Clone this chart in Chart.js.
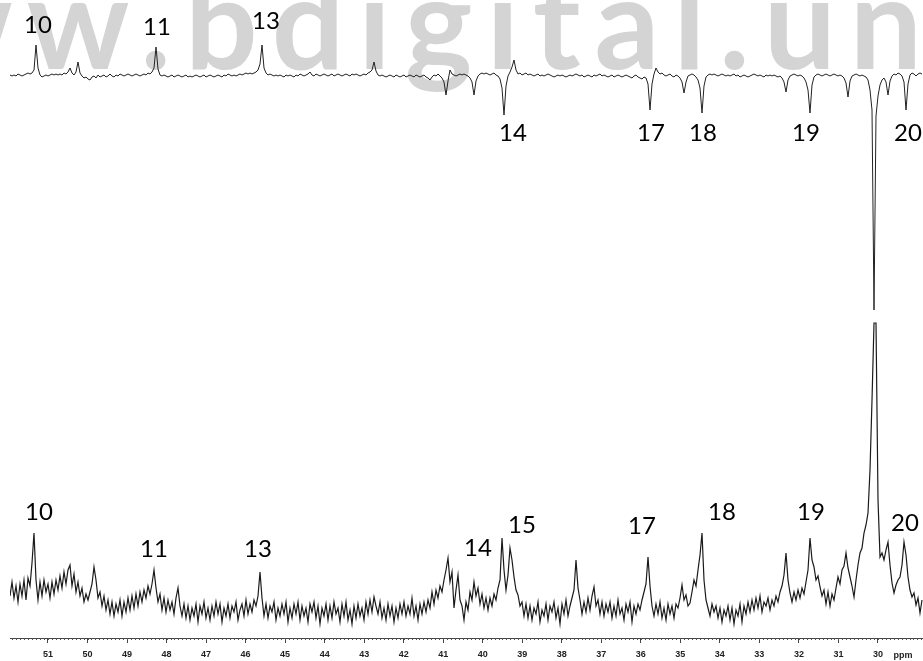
<!DOCTYPE html>
<html>
<head>
<meta charset="utf-8">
<script src="https://cdn.jsdelivr.net/npm/chart.js@4.4.1/dist/chart.umd.min.js"></script>
<style>
html,body{margin:0;padding:0;background:#fff;}
canvas{display:block;}
</style>
</head>
<body>
<canvas id="spectrum" width="923" height="661"></canvas>
<script>
// Spectral window (ppm, low field on the left) and sampling of both traces
const PPM_LEFT = 51.9615;
const PPM_RIGHT = 28.8595;
const PPM_STEP = 0.050607;

// Labelled axis positions
const ppmTicks = [51,50,49,48,47,46,45,44,43,42,41,40,39,38,37,36,35,34,33,32,31,30];

// DEPT-135 trace (CH/CH3 up, CH2 down), arbitrary intensity
const deptTrace = [
  1,0,1,0,2,1,0,1,2,3,2,3,6,31,8,1,-1,0,1,0,
  1,2,1,2,1,2,1,3,2,4,8,3,1,4,14,3,0,-2,-1,-3,
  -4,-1,0,-2,1,-1,0,1,-1,0,2,0,-1,1,0,2,1,0,1,2,
  1,0,1,2,1,0,1,2,1,3,2,4,8,29,7,1,0,1,0,-1,
  0,1,-1,0,1,0,-1,0,1,-1,0,-1,0,1,0,-1,0,1,-1,0,
  1,0,-1,0,1,0,-1,1,0,2,1,0,1,0,1,2,1,2,3,2,
  3,2,3,4,6,12,31,8,3,1,2,1,0,1,0,1,0,-1,1,0,
  1,0,-1,1,0,2,1,0,1,2,4,1,0,2,1,0,1,2,1,0,
  1,2,0,1,2,1,0,1,2,1,0,2,1,2,1,0,1,2,1,3,
  4,6,14,5,1,0,1,0,-1,0,1,0,-1,1,0,-1,0,1,-1,0,
  1,0,-1,1,0,-1,0,1,-1,-2,-4,-1,1,0,2,0,-2,-6,-19,-5,
  6,2,1,0,1,2,1,2,1,0,-2,-6,-19,-5,0,2,3,2,3,2,
  1,2,3,1,0,-3,-12,-39,-10,0,4,9,16,6,2,3,1,2,3,1,
  2,1,0,1,2,0,1,0,1,2,1,0,-1,0,1,0,1,0,-1,0,
  1,0,1,2,1,0,1,-1,0,1,0,-1,1,0,1,2,0,1,0,-1,
  0,1,-1,0,1,0,-1,0,1,0,-1,-2,0,1,-1,-2,-3,-1,-2,-8,
  -34,-8,2,8,4,2,3,1,0,1,2,0,-1,1,0,-2,-6,-17,-6,0,
  1,2,1,-1,-4,-12,-37,-10,-1,1,2,1,2,1,0,1,2,1,0,1,
  0,1,2,0,1,-1,0,1,0,-1,0,1,2,1,0,1,0,-1,1,0,
  1,0,1,0,-1,0,-2,-6,-16,-4,0,1,2,1,0,1,0,-2,-6,-14,
  -37,-9,-1,1,2,1,0,1,2,1,0,1,2,1,0,1,0,-2,-7,-21,
  -5,0,1,2,1,0,1,0,-1,-4,-14,-34,-234,-40,-20,-9,-4,-2,-6,-19,
  -5,0,2,1,3,2,0,-6,-34,-8,1,3,2,0,2,3,2
];

// Broadband-decoupled 13C trace, arbitrary intensity
const carbonTrace = [
  14,28,12,24,8,26,14,30,10,32,24,47,77,30,10,28,14,30,18,26,
  12,28,16,30,20,34,22,38,26,40,45,24,36,18,28,14,22,8,16,10,
  18,26,43,30,12,18,4,14,0,10,-4,8,-6,6,-2,10,-6,8,-2,12,
  0,14,2,16,4,18,8,20,12,24,16,26,40,22,8,16,0,12,-2,10,
  0,8,-4,12,22,4,-6,6,-8,4,-10,2,-6,6,-12,4,-4,8,-8,2,
  -10,4,-6,8,-4,6,-12,2,-6,6,-8,4,-2,8,-10,0,6,-6,10,-4,
  6,-2,10,4,14,38,12,-6,6,-8,4,-2,8,-10,2,-6,6,-4,8,-12,
  2,-8,6,-4,8,-10,4,-6,2,-12,6,-2,8,-8,4,-14,2,-6,6,-10,
  4,-8,8,-4,2,-12,6,-6,8,-10,0,-14,4,-8,6,-6,2,-10,8,-4,
  10,-2,13,4,-4,8,-8,2,-10,6,-6,4,-12,2,-8,6,-4,8,-6,4,
  -4,12,-6,4,-10,6,-4,8,-2,10,2,18,6,20,12,24,18,30,40,52,
  28,38,2,20,35,10,4,-10,8,0,18,10,28,14,22,6,16,2,12,0,
  12,4,16,10,22,30,72,40,20,35,62,50,33,20,15,4,8,-6,6,-8,
  4,-10,2,-4,8,-12,0,-6,6,-10,4,-2,8,-8,2,-14,6,-4,10,-6,
  4,12,20,50,22,10,-4,8,-2,12,0,14,23,4,10,-4,8,-6,6,-2,
  8,-8,4,-6,10,-4,2,-10,6,-2,8,-12,4,-4,6,0,10,18,26,53,
  24,4,-6,6,-4,8,-8,2,-10,6,-4,4,-8,6,2,12,25,10,15,4,
  7,18,30,24,40,55,77,30,10,2,-6,6,-2,4,-8,2,-12,0,-6,4,
  -10,2,-14,0,-6,6,-12,4,-4,8,-2,10,0,12,2,14,-2,8,4,12,
  0,10,4,14,8,18,24,35,57,30,17,8,18,10,20,12,22,16,28,40,
  72,50,43,30,34,23,14,20,6,18,4,16,10,22,33,26,40,44,57,42,
  33,24,13,30,45,57,62,77,85,97,140,210,287,287,110,53,57,50,60,68,
  45,27,17,25,30,33,45,68,55,33,20,13,17,5,12,-3,10
];

// Carbon assignments
const deptPeakNames  = ['10','11','13','14','17','18','19','20'];
const deptPeakPpm    = [51.304, 48.267, 45.585, 39.461, 35.767, 34.451, 31.718, 29.289];
const deptPeakHeight = [31, 29, 31, -39, -34, -37, -37, -34];

const carbonPeakNames  = ['10','11','13','14','15','17','18','19','20'];
const carbonPeakPpm    = [51.354, 48.318, 45.636, 39.512, 39.310, 35.817, 34.451, 31.718, 29.340];
const carbonPeakHeight = [77, 40, 38, 72, 62, 53, 77, 72, 68];

// Label placement relative to each peak tip (px)
const deptLabelShift   = [[2,-20],[1,-20],[4,-24],[9,18],[1,23],[1,20],[-4,20],[2,23]];
const carbonLabelShift = [[5,-21],[0,-21],[-2,-23],[-24,10],[12,-23],[-6,-31],[20,-21],[1,-26],[1,-19]];

const toPoints = vals => vals.map((v, i) => ({x: PPM_LEFT - i * PPM_STEP, y: v}));

const decor = {
  id: 'decor',
  beforeDatasetsDraw(chart) {
    const ctx = chart.ctx;
    ctx.save();
    ctx.font = 'bold 128px Lato';
    ctx.letterSpacing = '14px';
    ctx.fillStyle = '#d4d4d4';
    ctx.textBaseline = 'alphabetic';
    const lead = ctx.measureText('www.').width;
    ctx.fillText('www.bdigital.unal.edu.co', 185 - lead, 69);
    ctx.restore();
  },
  afterDraw(chart) {
    const ctx = chart.ctx;
    const xs = chart.scales.x;
    const bottom = chart.chartArea.bottom;
    ctx.save();
    // minor ticks every 0.1 ppm
    ctx.strokeStyle = '#555';
    ctx.lineWidth = 1;
    ctx.beginPath();
    for (let k = 289; k <= 519; k++) {
      const px = Math.round(xs.getPixelForValue(k / 10)) + 0.5;
      ctx.moveTo(px, bottom);
      ctx.lineTo(px, bottom + 2);
    }
    ctx.stroke();
    ctx.font = 'bold 9px Arial';
    ctx.fillStyle = '#222';
    ctx.textAlign = 'center';
    ctx.textBaseline = 'middle';
    ctx.fillText('ppm', 903, 656);

    // assignments
    ctx.font = '24px Lato';
    ctx.fillStyle = '#000';
    const yTop = chart.scales.y2, yLow = chart.scales.y;
    deptPeakNames.forEach((t, i) => {
      const [dx, dy] = deptLabelShift[i];
      ctx.fillText(t, xs.getPixelForValue(deptPeakPpm[i]) + dx, yTop.getPixelForValue(deptPeakHeight[i]) + dy);
    });
    carbonPeakNames.forEach((t, i) => {
      const [dx, dy] = carbonLabelShift[i];
      ctx.fillText(t, xs.getPixelForValue(carbonPeakPpm[i]) + dx, yLow.getPixelForValue(carbonPeakHeight[i]) + dy);
    });
    ctx.restore();
  }
};

function build() {
  new Chart(document.getElementById('spectrum'), {
    type: 'line',
    data: {
      datasets: [
        {data: toPoints(deptTrace), yAxisID: 'y2', borderColor: '#222', borderWidth: 1, pointRadius: 0, tension: 0},
        {data: toPoints(carbonTrace), yAxisID: 'y', borderColor: '#1a1a1a', borderWidth: 1.2, pointRadius: 0, tension: 0}
      ]
    },
    options: {
      responsive: false,
      animation: false,
      events: [],
      layout: {padding: {left: 10, right: 0, top: 0, bottom: 0}},
      plugins: {legend: {display: false}, tooltip: {enabled: false}},
      scales: {
        x: {
          type: 'linear',
          reverse: true,
          min: PPM_RIGHT,
          max: PPM_LEFT,
          afterBuildTicks: s => { s.ticks = ppmTicks.map(v => ({value: v})); },
          afterFit: s => { s.height = 23; },
          grid: {drawOnChartArea: false, drawTicks: true, tickLength: 5, color: '#444'},
          border: {display: true, color: '#444', width: 1},
          ticks: {autoSkip: false, maxRotation: 0, padding: 6, color: '#222',
                  font: {family: 'Arial', size: 9, weight: 'bold'}}
        },
        y: {display: false, min: -28, max: 610},
        y2: {display: false, min: -562, max: 76}
      }
    },
    plugins: [decor]
  });
}

const fontsReady = document.fonts ? Promise.all([
  document.fonts.load('bold 128px Lato'),
  document.fonts.load('24px Lato')
]).catch(() => null) : Promise.resolve();
fontsReady.then(build, build);
</script>
</body>
</html>
